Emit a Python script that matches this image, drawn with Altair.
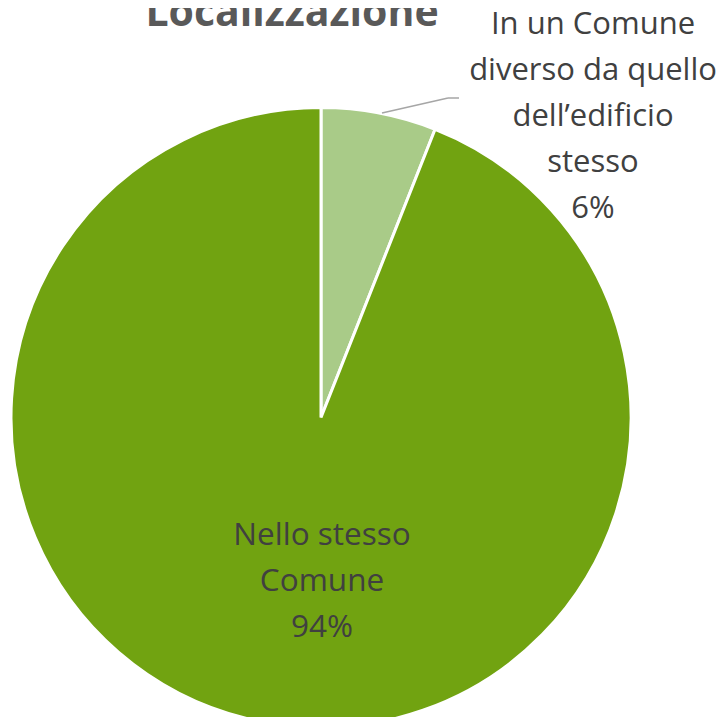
import altair as alt
import pandas as pd

categories = ["In un Comune diverso da quello dell'edificio stesso", "Nello stesso Comune"]
values = [6, 94]
colors = ["#A9CB88", "#71A311"]
outer_label = "In un Comune\ndiverso da quello\ndell\u2019edificio\nstesso\n6%"
inner_label = "Nello stesso\nComune\n94%"
title_text = "Localizzazione"

df = pd.DataFrame({"cat": categories, "val": values, "order": [0, 1]})

CX, CY, R = 313, 409.5, 310

pie = alt.Chart(df).mark_arc(stroke="white", strokeWidth=3, radius=R).encode(
    theta=alt.Theta("val:Q", stack=True),
    color=alt.Color("cat:N", scale=alt.Scale(domain=categories, range=colors), legend=None),
    order=alt.Order("order:Q"),
    x=alt.value(CX),
    y=alt.value(CY),
)

outer = alt.Chart(pd.DataFrame({"t": [outer_label]})).mark_text(
    font="Open Sans", fontSize=31, color="#404040", align="center",
    baseline="alphabetic", lineBreak="\n", lineHeight=46,
).encode(text="t:N", x=alt.value(585), y=alt.value(26))

inner = alt.Chart(pd.DataFrame({"t": [inner_label]})).mark_text(
    font="Open Sans", fontSize=31.5, color="#404040", align="center",
    baseline="alphabetic", lineBreak="\n", lineHeight=46,
).encode(text="t:N", x=alt.value(314), y=alt.value(537))

title = alt.Chart(pd.DataFrame({"t": [title_text]})).mark_text(
    font="Open Sans", fontSize=41, fontWeight="bold", color="#595959",
    align="center", baseline="alphabetic",
).encode(text="t:N", x=alt.value(284), y=alt.value(18))

leader1 = alt.Chart(pd.DataFrame({"a": [0]})).mark_rule(color="#A6A6A6", strokeWidth=1.5).encode(
    x=alt.value(374), y=alt.value(105), x2=alt.value(440), y2=alt.value(90)
)
leader2 = alt.Chart(pd.DataFrame({"a": [0]})).mark_rule(color="#A6A6A6", strokeWidth=1.5).encode(
    x=alt.value(440), y=alt.value(90), x2=alt.value(451), y2=alt.value(90)
)

chart = alt.layer(pie, leader1, leader2, outer, inner, title).properties(
    width=709, height=709, padding=0, autosize=alt.AutoSizeParams(type="none")
).configure_view(stroke=None)

chart.save("out.html", embed_options={"renderer": "svg", "actions": False})
